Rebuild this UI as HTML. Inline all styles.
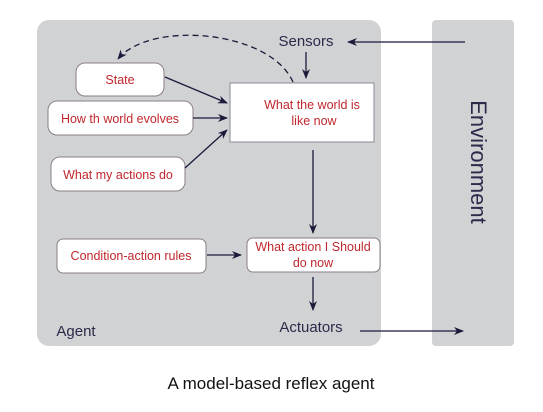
<!DOCTYPE html>
<html><head><style>body{margin:0;background:#fff}</style></head><body>
<svg width="543" height="407" xmlns="http://www.w3.org/2000/svg" font-family="Liberation Sans, sans-serif">
<defs><marker id="a" markerWidth="10" markerHeight="8" refX="9" refY="4" orient="auto" markerUnits="userSpaceOnUse"><path d="M0,0 L10,4 L0,8 L3,4 z" fill="#1a1a3a"/></marker></defs>
<rect x="37" y="20" width="344" height="326" rx="12" fill="#d1d2d4"/>
<rect x="432" y="20" width="82" height="326" rx="4" fill="#d1d2d4"/>
<g fill="#fff" stroke="#8a7f88" stroke-width="1">
<rect x="76" y="63" width="88" height="33" rx="9"/>
<rect x="48" y="101" width="145" height="34" rx="9"/>
<rect x="51" y="157" width="134" height="34" rx="9"/>
<rect x="230" y="83" width="144" height="59" fill="#fff" stroke="#8a8a99"/>
<rect x="57" y="239" width="149" height="34" rx="6"/>
<rect x="247" y="238" width="133" height="34" rx="6"/>
</g>
<g fill="#c0272d" font-size="12.5" text-anchor="middle">
<text x="120" y="84">State</text>
<text x="120" y="123">How th world evolves</text>
<text x="118" y="179">What my actions do</text>
<text x="312" y="109">What the world is</text>
<text x="314" y="125">like now</text>
<text x="131" y="260">Condition-action rules</text>
<text x="313" y="251">What action I Should</text>
<text x="313" y="267">do now</text>
</g>
<g fill="#2a2a4a" font-size="15" text-anchor="middle">
<text x="306" y="46">Sensors</text>
<text x="311" y="332">Actuators</text>
<text x="76" y="336">Agent</text>
<text x="271" y="389" font-size="17" fill="#111">A model-based reflex agent</text>
<text transform="translate(471,162) rotate(90)" font-size="22">Environment</text>
</g>
<g stroke="#1a1a3a" stroke-width="1.3" fill="none" marker-end="url(#a)">
<line x1="465" y1="42" x2="348" y2="42"/>
<line x1="306" y1="52" x2="306" y2="78"/>
<line x1="165" y1="77" x2="227" y2="103"/>
<line x1="193" y1="118" x2="227" y2="118"/>
<line x1="185" y1="168" x2="227" y2="130"/>
<line x1="313" y1="150" x2="313" y2="233"/>
<line x1="207" y1="255" x2="241" y2="255"/>
<line x1="313" y1="277" x2="313" y2="310"/>
<line x1="360" y1="331" x2="463" y2="331"/>
<path d="M293,82 C270,30 150,20 118,59" stroke-dasharray="6,4"/>
</g>
</svg>
</body></html>
